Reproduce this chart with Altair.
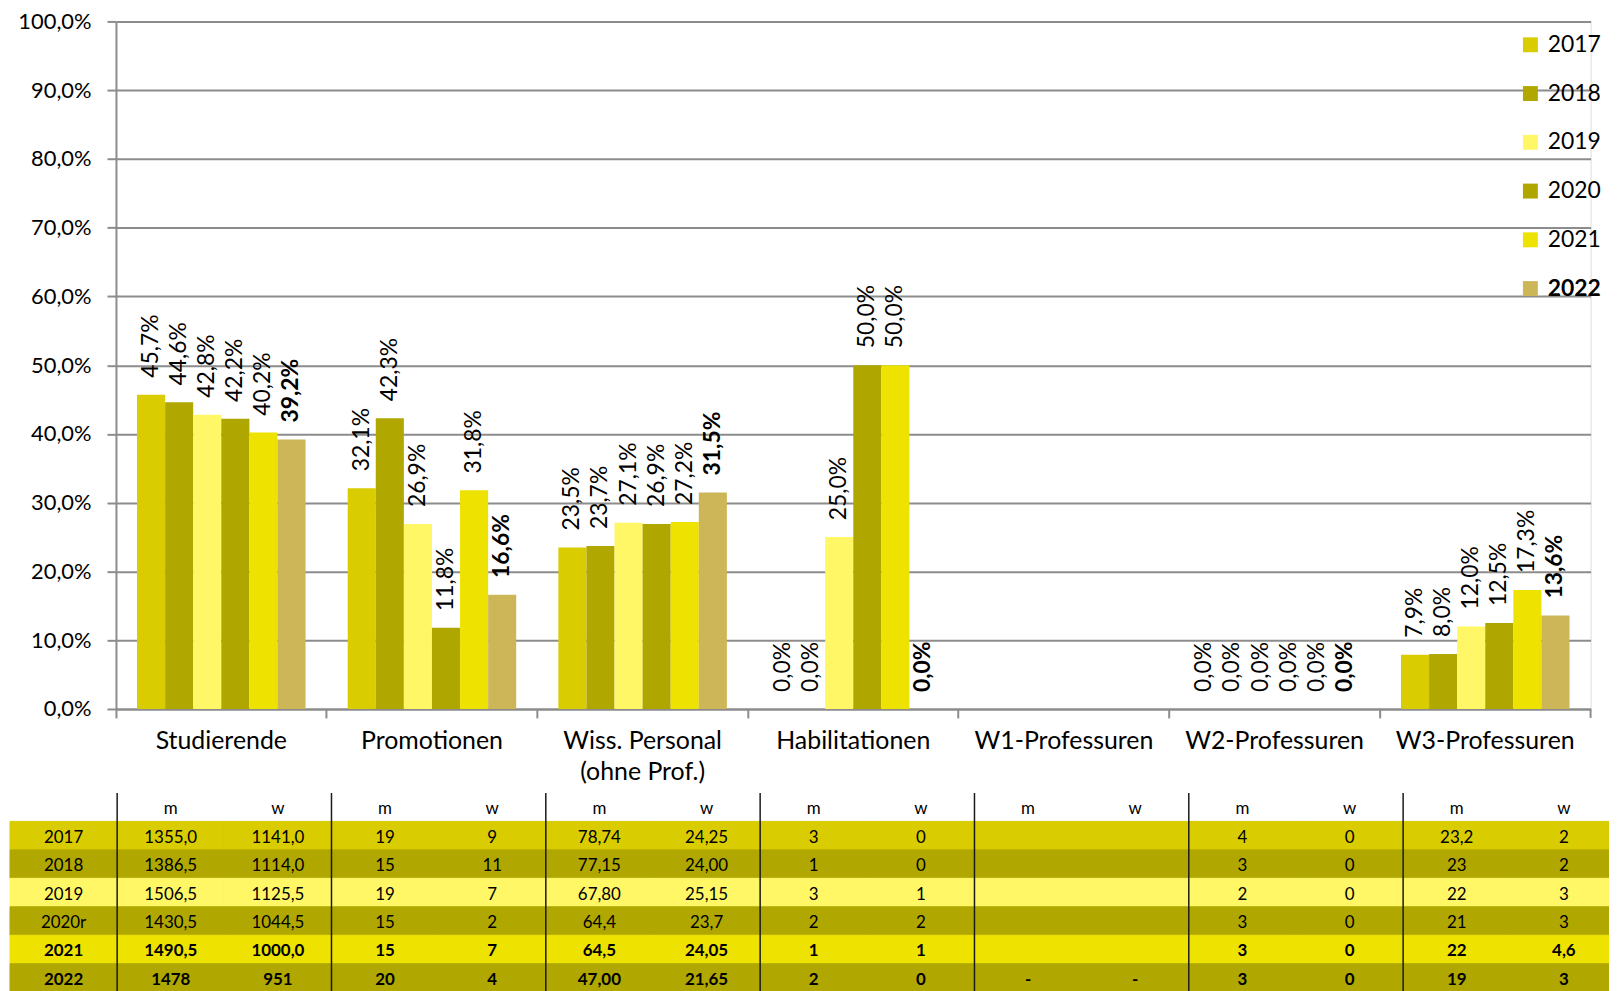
import altair as alt
import pandas as pd

# ---------------- chart data ----------------
categories = ["Studierende", "Promotionen", "Wiss. Personal\n(ohne Prof.)", "Habilitationen",
              "W1-Professuren", "W2-Professuren", "W3-Professuren"]
years = ["2017", "2018", "2019", "2020", "2021", "2022"]
year_colors = ["#D9CC00", "#B0A800", "#FFF766", "#AFA700", "#EEE200", "#CCB658"]

share_studierende = [45.7, 44.6, 42.8, 42.2, 40.2, 39.2]
share_promotionen = [32.1, 42.3, 26.9, 11.8, 31.8, 16.6]
share_wiss = [23.5, 23.7, 27.1, 26.9, 27.2, 31.5]
share_habil = [0.0, 0.0, 25.0, 50.0, 50.0, 0.0]
share_w1 = [None, None, None, None, None, None]
share_w2 = [0.0, 0.0, 0.0, 0.0, 0.0, 0.0]
share_w3 = [7.9, 8.0, 12.0, 12.5, 17.3, 13.6]
y_ticks = [0, 10, 20, 30, 40, 50, 60, 70, 80, 90, 100]

# ---------------- table data ----------------
table_rows = ["2017", "2018", "2019", "2020r", "2021", "2022"]
row_colors = ["#D9CC00", "#B0A800", "#FFF766", "#B0A800", "#EEE200", "#B0A800"]
bold_rows = ["2021", "2022"]
sub_headers = ["m", "w"]
stud_m = ["1355,0", "1386,5", "1506,5", "1430,5", "1490,5", "1478"]
stud_w = ["1141,0", "1114,0", "1125,5", "1044,5", "1000,0", "951"]
prom_m = ["19", "15", "19", "15", "15", "20"]
prom_w = ["9", "11", "7", "2", "7", "4"]
wiss_m = ["78,74", "77,15", "67,80", "64,4", "64,5", "47,00"]
wiss_w = ["24,25", "24,00", "25,15", "23,7", "24,05", "21,65"]
habil_m = ["3", "1", "3", "2", "1", "2"]
habil_w = ["0", "0", "1", "2", "1", "0"]
w1_m = ["", "", "", "", "", "-"]
w1_w = ["", "", "", "", "", "-"]
w2_m = ["4", "3", "2", "3", "3", "3"]
w2_w = ["0", "0", "0", "0", "0", "0"]
w3_m = ["23,2", "23", "22", "21", "22", "19"]
w3_w = ["2", "2", "3", "3", "4,6", "3"]

# ---------------- build tables ----------------
series = [share_studierende, share_promotionen, share_wiss, share_habil, share_w1, share_w2, share_w3]
bar_records = []
for cat, vals in zip(categories, series):
    for yr, v in zip(years, vals):
        if v is None:
            continue
        bar_records.append({"cat": cat, "year": yr, "v": v,
                            "label": f"{v:.1f}".replace(".", ",") + "%"})
bars_df = pd.DataFrame(bar_records)

table_values = [stud_m, stud_w, prom_m, prom_w, wiss_m, wiss_w, habil_m, habil_w,
                w1_m, w1_w, w2_m, w2_w, w3_m, w3_w]
col_keys = [f"c{j:02d}" for j in range(len(table_values) + 1)]
row_keys = ["hdr"] + table_rows

cell_records = []
for j in range(len(table_values)):
    cell_records.append({"row": "hdr", "col": col_keys[j + 1], "txt": sub_headers[j % 2],
                         "bold": False, "fillrow": False})
for i, r in enumerate(table_rows):
    cell_records.append({"row": r, "col": col_keys[0], "txt": r,
                         "bold": r in bold_rows, "fillrow": True})
    for j, vals in enumerate(table_values):
        cell_records.append({"row": r, "col": col_keys[j + 1], "txt": vals[i],
                             "bold": r in bold_rows, "fillrow": True})
cells_df = pd.DataFrame(cell_records)
sep_df = pd.DataFrame({"col": [col_keys[k] for k in range(1, len(col_keys), 2)]})
end_df = pd.DataFrame({"cat": [categories[-1]]})

# ---------------- layout ----------------
FONT = "Lato"
W, H = 1482, 691
GRAY = "#8C8C8C"

x_scale = alt.Scale(domain=categories, paddingInner=0, paddingOuter=0)
x_axis = alt.Axis(title=None, bandPosition=0, tickSize=9, tickWidth=2,
                  tickColor=GRAY, domainColor=GRAY, domainWidth=2, labelFontSize=25,
                  labelFont=FONT, labelColor="black", labelPadding=11, labelLineHeight=31,
                  labelLimit=0, labelOverlap=False, labelFlush=False, labelAngle=0,
                  labelExpr="split(datum.label, '\\n')", grid=False)
x_enc = alt.X("cat:N", sort=categories, scale=x_scale, axis=x_axis)
xoff_enc = alt.XOffset("year:N", sort=years,
                       scale=alt.Scale(domain=years, paddingInner=0, paddingOuter=0.75))
y_enc = alt.Y("v:Q", scale=alt.Scale(domain=[0, 100], nice=False, zero=True),
              axis=alt.Axis(title=None, values=y_ticks, tickSize=9, tickWidth=2, tickColor=GRAY,
                            domainColor=GRAY, domainWidth=2, gridColor=GRAY, gridWidth=2,
                            labelFontSize=22, labelFont=FONT, labelColor="black",
                            labelPadding=16, labelFlush=False, labelOverlap=False,
                            labelExpr="replace(format(datum.value, '.1f'), '.', ',') + '%'"))

bars = alt.Chart(bars_df).mark_bar(stroke=None).encode(
    x=x_enc, xOffset=xoff_enc, y=y_enc,
    color=alt.Color("year:N", sort=years,
                    scale=alt.Scale(domain=years, range=year_colors),
                    legend=alt.Legend(title=None, orient="none", legendX=1410, legendY=12,
                                      direction="vertical", symbolType="square", symbolSize=225,
                                      symbolStrokeWidth=0, labelFontSize=23, labelFont=FONT,
                                      labelColor="black", labelOffset=6, rowPadding=25,
                                      padding=0,
                                      labelFontWeight={"expr": "datum.label == '2022' ? 'bold' : 'normal'"})),
)

LBL = 23
labels_normal = alt.Chart(bars_df).transform_filter(alt.datum.year != years[-1]).mark_text(
    angle=270, align="left", baseline="middle", dx=17, fontSize=LBL, font=FONT,
    color="black").encode(x=x_enc, xOffset=xoff_enc, y=y_enc, text="label:N")
labels_bold = alt.Chart(bars_df).transform_filter(alt.datum.year == years[-1]).mark_text(
    angle=270, align="left", baseline="middle", dx=17, fontSize=LBL, font=FONT,
    color="black", fontWeight="bold").encode(x=x_enc, xOffset=xoff_enc, y=y_enc, text="label:N")

end_tick = alt.Chart(end_df).mark_rule(color=GRAY, strokeWidth=2).encode(
    x=alt.X("cat:N", sort=categories, scale=x_scale, axis=x_axis, bandPosition=1),
    y=alt.value(H), y2=alt.value(H + 9))

top = alt.layer(bars, labels_normal, labels_bold, end_tick)

# table
tbl_x = alt.Scale(type="band", domain=col_keys, range=[10 - 116.5, 10 - 116.5 + 15 * 107.7],
                  paddingInner=0, paddingOuter=0)
tbl_y = alt.Scale(type="band", domain=row_keys, range=[775.4, 775.4 + 7 * 28.6],
                  paddingInner=0, paddingOuter=0)
tx = alt.X("col:N", scale=tbl_x, axis=None)
ty = alt.Y("row:N", scale=tbl_y, axis=None)

cell_fill = alt.Chart(cells_df).transform_filter(alt.datum.fillrow).mark_rect(strokeWidth=1).encode(
    x=tx, y=ty,
    fill=alt.Fill("row:N", scale=alt.Scale(domain=table_rows, range=row_colors), legend=None),
    stroke=alt.Stroke("row:N", scale=alt.Scale(domain=table_rows, range=row_colors), legend=None),
)
seps = alt.Chart(sep_df).mark_rule(color="#1a1a1a", strokeWidth=1.5).encode(
    x=alt.X("col:N", scale=tbl_x, axis=None, bandPosition=0),
    y=alt.value(775.4), y2=alt.value(980))
txt_normal = alt.Chart(cells_df).transform_filter("!datum.bold").mark_text(
    fontSize=17, font=FONT, color="black", baseline="middle", align="center", dy=2).encode(
    x=tx, y=ty, text="txt:N")
txt_bold = alt.Chart(cells_df).transform_filter("datum.bold").mark_text(
    fontSize=17, font=FONT, color="black", baseline="middle", align="center", dy=2,
    fontWeight="bold").encode(x=tx, y=ty, text="txt:N")

table = alt.layer(cell_fill, seps, txt_normal, txt_bold)

chart = alt.layer(top, table).resolve_scale(x="independent", y="independent").properties(
    width=W, height=H,
    autosize=alt.AutoSizeParams(type="none"),
    padding={"left": 108.5, "top": 11, "right": 18.5, "bottom": 292},
).configure_view(stroke=None).configure(background="white", font=FONT)

chart.save("out.html", embed_options={"renderer": "svg", "actions": False})
